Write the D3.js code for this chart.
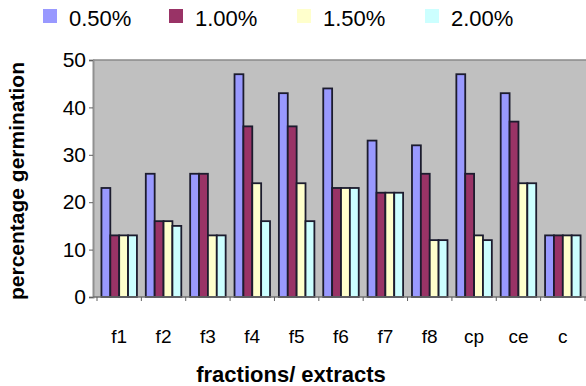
<!DOCTYPE html>
<html><head><meta charset="utf-8">
<script src="https://cdn.jsdelivr.net/npm/d3@7"></script>
<style>body{margin:0;background:#fff}svg{display:block}text{font-family:"Liberation Sans",Arial,sans-serif}</style>
</head><body>
<svg id="c" width="586" height="386"></svg>
<script>
const categories = ["f1","f2","f3","f4","f5","f6","f7","f8","cp","ce","c"];
const seriesNames = ["0.50%","1.00%","1.50%","2.00%"];
const seriesColors = ["#9999ff","#993366","#ffffcc","#ccffff"];
const s050 = [23,26,26,47,43,44,33,32,47,43,13];
const s100 = [13,16,26,36,36,23,22,26,26,37,13];
const s150 = [13,16,13,24,24,23,22,12,13,24,13];
const s200 = [13,15,13,16,16,23,22,12,12,24,13];
const yTicks = [0,10,20,30,40,50];
const series = [s050,s100,s150,s200];

(function(){
const svg = d3.select("#c");
const pl = 93, pr = 585, pt = 60, pb = 297;

const x = d3.scaleBand().domain(categories).range([97, 585]).paddingInner(0.2).paddingOuter(0.1);
const xs = d3.scaleBand().domain(d3.range(series.length)).range([0, x.bandwidth()]);
const y = d3.scaleLinear().domain([0,50]).range([pb, pt]);

// plot area
svg.append("rect").attr("x", pl).attr("y", pt).attr("width", 600-pl).attr("height", pb-pt).attr("fill","#c0c0c0");
svg.append("line").attr("x1", pl).attr("x2", 600).attr("y1", pt).attr("y2", pt).attr("stroke","#8a8a8a").attr("stroke-width",1.5);

// bars
const g = svg.append("g");
categories.forEach((c, i) => {
  series.forEach((s, k) => {
    g.append("rect")
      .attr("x", x(c) + xs(k))
      .attr("y", y(s[i]))
      .attr("width", xs.bandwidth())
      .attr("height", y(0) - y(s[i]))
      .attr("fill", seriesColors[k])
      .attr("stroke", "#1c1c2e")
      .attr("stroke-width", 1.8);
  });
});

// y axis
const yAxis = svg.append("g").attr("transform", `translate(${pl},0)`)
  .call(d3.axisLeft(y).tickValues(yTicks).tickSize(4).tickPadding(3));
yAxis.select(".domain").attr("stroke","#909090").attr("stroke-width",2);
yAxis.selectAll(".tick line").attr("stroke","#606060");
yAxis.selectAll("text").attr("font-size", 21).attr("fill","#000").attr("font-family","Liberation Sans, Arial, sans-serif");

// x axis line + boundary ticks
svg.append("line").attr("x1", pl).attr("x2", 586).attr("y1", pb).attr("y2", pb).attr("stroke","#707070").attr("stroke-width",1.5);
const bounds = categories.map(c => x(c) - x.step()*x.paddingInner()/2).concat([585]);
svg.append("g").selectAll("line").data(bounds).join("line")
  .attr("x1", d => d).attr("x2", d => d).attr("y1", pb).attr("y2", pb + 4)
  .attr("stroke","#606060");

// category labels
svg.append("g").selectAll("text").data(categories).join("text")
  .attr("x", d => x(d) + x.bandwidth()/2).attr("y", 343)
  .attr("text-anchor","middle").attr("font-size", 19).text(d => d);

// axis titles
svg.append("text").attr("x", 291).attr("y", 382).attr("text-anchor","middle")
  .attr("font-size", 22).attr("font-weight","bold").text("fractions/ extracts");
svg.append("text").attr("transform","translate(24,181) rotate(-90)").attr("text-anchor","middle")
  .attr("font-size", 21).attr("font-weight","bold").text("percentage germination");

// legend
const legX = [43,169,297,425];
const leg = svg.append("g").selectAll("g").data(seriesNames).join("g")
  .attr("transform", (d,i) => `translate(${legX[i]},9)`);
leg.append("rect").attr("width",14).attr("height",14).attr("fill",(d,i)=>seriesColors[i]);
leg.append("text").attr("x", 26).attr("y", 17).attr("font-size", 22).text(d => d);
})();
</script>
</body></html>
